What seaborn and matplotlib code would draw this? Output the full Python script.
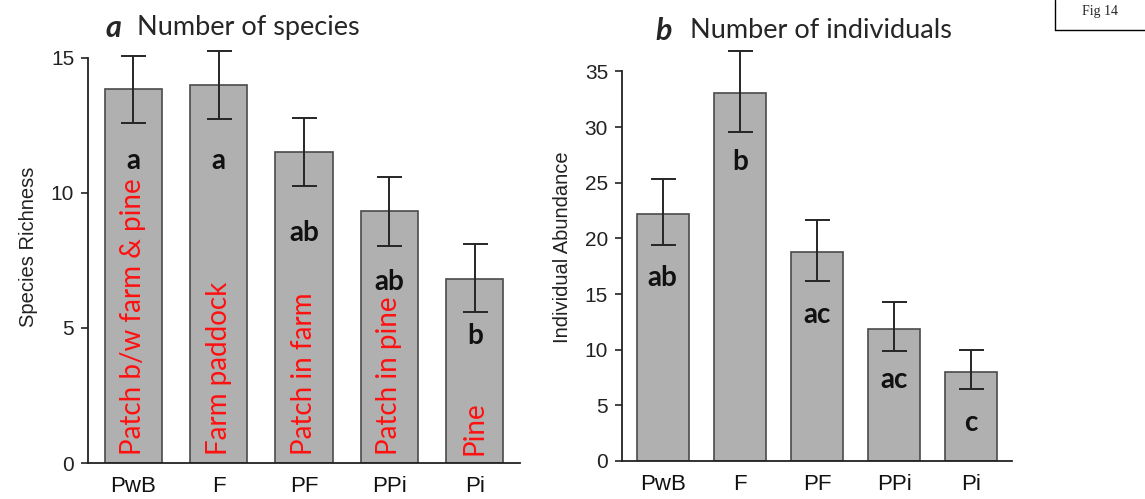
import numpy as np
import pandas as pd
import matplotlib
matplotlib.use("Agg")
import matplotlib.pyplot as plt
import seaborn as sns

# data
sites = ["PwB", "F", "PF", "PPi", "Pi"]
site_names = ["Patch b/w farm & pine", "Farm paddock", "Patch in farm", "Patch in pine", "Pine"]

richness = [13.85, 14.0, 11.5, 9.33, 6.8]
richness_lo = [12.6, 12.75, 10.25, 8.05, 5.6]
richness_hi = [15.07, 15.25, 12.78, 10.6, 8.1]
richness_letters = ["a", "a", "ab", "ab", "b"]
richness_letter_y = [11.2, 11.2, 8.5, 6.7, 4.7]

abundance = [22.2, 33.05, 18.75, 11.85, 8.0]
abundance_lo = [19.4, 29.55, 16.2, 9.85, 6.45]
abundance_hi = [25.35, 36.85, 21.65, 14.25, 10.0]
abundance_letters = ["ab", "b", "ac", "ac", "c"]
abundance_letter_y = [16.4, 26.9, 13.1, 7.3, 3.4]

sns.set_style("white")
plt.rcParams["font.family"] = ["Liberation Sans", "DejaVu Sans"]

fig = plt.figure(figsize=(11.45, 4.99), dpi=100)
ax_a = fig.add_axes([0.0769, 0.0721, 0.3773, 0.866])
ax_b = fig.add_axes([0.5432, 0.0762, 0.3406, 0.8587])

bar_color = "#b0b0b0"
edge_color = "#4a4a4a"
calibri = ["Lato", "DejaVu Sans"]


def draw_panel(ax, vals, lo, hi, letters, letter_y, ymax, top, ticks, ylabel):
    df = pd.DataFrame({"site": sites, "val": vals})
    sns.barplot(data=df, x="site", y="val", order=sites, color=bar_color,
                edgecolor=edge_color, linewidth=1.2, width=0.67,
                saturation=1, errorbar=None, ax=ax)
    vals = np.array(vals)
    yerr = [vals - np.array(lo), np.array(hi) - vals]
    ax.errorbar(np.arange(len(sites)), vals, yerr=yerr, fmt="none",
                ecolor="#262626", elinewidth=1.4, capsize=9, capthick=1.4)
    for i, (t, y) in enumerate(zip(letters, letter_y)):
        ax.text(i, y, t, ha="center", va="center", fontsize=20,
                fontweight="bold", family=calibri, color="#111111")
    ax.set_xlim(-0.53, 4.53)
    ax.set_ylim(0, top)
    ax.set_yticks(ticks)
    ax.spines["top"].set_visible(False)
    ax.spines["right"].set_visible(False)
    ax.spines["left"].set_bounds(0, ymax)
    for s in ("left", "bottom"):
        ax.spines[s].set_color("#222222")
        ax.spines[s].set_linewidth(1.3)
    ax.tick_params(axis="y", which="major", left=True, length=5, width=1.2,
                   color="#222222", labelsize=15, pad=5, labelcolor="#222222")
    ax.tick_params(axis="x", bottom=False, labelsize=16, pad=6,
                   labelcolor="#111111")
    ax.set_xlabel("")
    ax.set_ylabel(ylabel, fontsize=14.5, color="#222222", labelpad=9)


draw_panel(ax_a, richness, richness_lo, richness_hi, richness_letters,
           richness_letter_y, 15, 16, [0, 5, 10, 15], "Species Richness")
draw_panel(ax_b, abundance, abundance_lo, abundance_hi, abundance_letters,
           abundance_letter_y, 35, 38.5, [0, 5, 10, 15, 20, 25, 30, 35],
           "Individual Abundance")

# red site names inside panel a bars
for i, name in enumerate(site_names):
    ax_a.text(i, 0.3, name, rotation=90, ha="center", va="bottom",
              fontsize=20, color="#ff1010", family=calibri)

# panel titles
fig.text(0.092, 0.944, "a", fontsize=22, fontweight="bold", style="italic",
         family=calibri, va="center")
fig.text(0.1197, 0.944, "Number of species", fontsize=19.5, family=calibri,
         va="center")
fig.text(0.572, 0.938, "b", fontsize=22, fontweight="bold", style="italic",
         family=calibri, va="center")
fig.text(0.6026, 0.938, "Number of individuals", fontsize=19.5, family=calibri,
         va="center")

# "Fig 14" tag in top right corner
fig.add_artist(plt.Line2D([1055 / 1145, 1055 / 1145], [1, 1 - 30 / 499],
                          transform=fig.transFigure, color="black", lw=1))
fig.add_artist(plt.Line2D([1055 / 1145, 1], [1 - 30 / 499, 1 - 30 / 499],
                          transform=fig.transFigure, color="black", lw=1))
fig.text(1100 / 1145, 1 - 12 / 499, "Fig 14", fontsize=10,
         family=["Liberation Serif", "DejaVu Serif"], ha="center", va="center")

fig.savefig("out.png", dpi=100)
